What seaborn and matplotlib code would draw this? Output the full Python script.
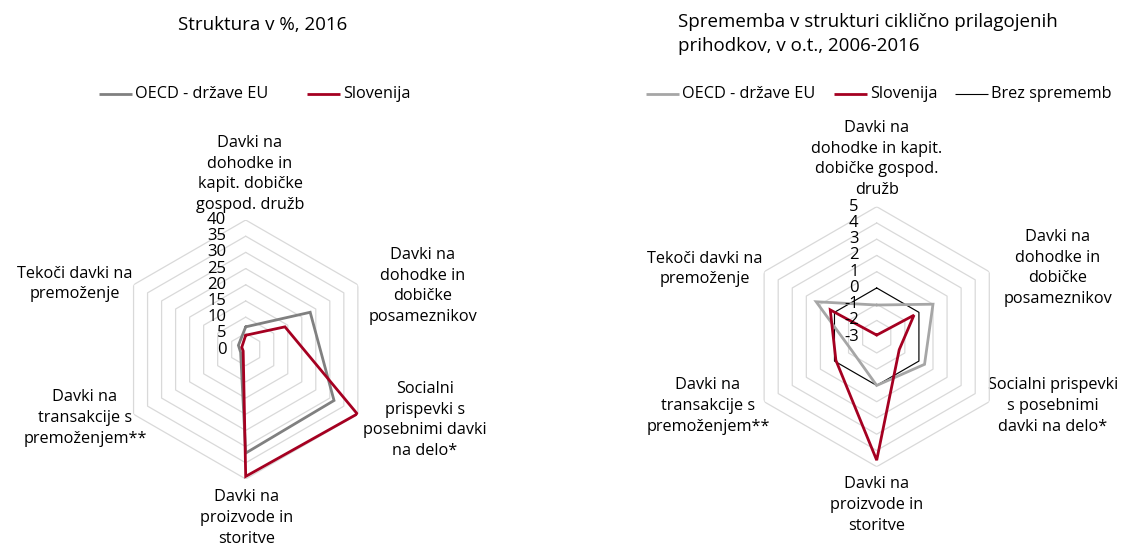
import numpy as np
import pandas as pd
import matplotlib
matplotlib.use("Agg")
import matplotlib.pyplot as plt
import seaborn as sns

# ---------------- data ----------------
labels_left = [
    "Davki na\ndohodke in\nkapit. dobičke\ngospod. družb",
    "Davki na\ndohodke in\ndobičke\nposameznikov",
    "Socialni\nprispevki s\nposebnimi davki\nna delo*",
    "Davki na\nproizvode in\nstoritve",
    "Davki na\ntransakcije s\npremoženjem**",
    "Tekoči davki na\npremoženje",
]
labels_right = [
    "Davki na\ndohodke in kapit.\ndobičke gospod.\ndružb",
    "Davki na\ndohodke in\ndobičke\nposameznikov",
    "Socialni prispevki\ns posebnimi\ndavki na delo*",
    "Davki na\nproizvode in\nstoritve",
    "Davki na\ntransakcije s\npremoženjem**",
    "Tekoči davki na\npremoženje",
]
oecd_share = [7.0, 23.0, 31.5, 32.0, 1.8, 2.6]
slo_share = [4.4, 14.0, 39.8, 39.2, 0.9, 1.4]
oecd_change = [-1.05, 1.0, 0.4, 0.0, -1.25, 1.3]
slo_change = [-2.9, -0.35, -1.4, 4.6, -0.1, 0.3]
no_change = [0, 0, 0, 0, 0, 0]
ticks_left = [0, 5, 10, 15, 20, 25, 30, 35, 40]
ticks_right = [-3, -2, -1, 0, 1, 2, 3, 4, 5]
title_left = "Struktura v %, 2016"
title_right = "Sprememba v strukturi ciklično prilagojenih\nprihodkov, v o.t., 2006-2016"
legend_left = ["OECD - države EU", "Slovenija"]
legend_right = ["OECD - države EU", "Slovenija", "Brez sprememb"]

# ---------------- style ----------------
sns.set_theme(style="white")
plt.rcParams["font.family"] = ["Open Sans", "DejaVu Sans"]
RED = "#A50021"
GRAY_L = "#808080"
GRAY_R = "#A6A6A6"
GRID = "#D9D9D9"
FS = 11.7
TXT = "#000000"

W, H = 1123, 545
fig = plt.figure(figsize=(W / 100, H / 100), dpi=100)

# overlay axes in pixel coordinates for free text / legends
ov = fig.add_axes([0, 0, 1, 1])
ov.set_xlim(0, W)
ov.set_ylim(H, 0)
ov.axis("off")


def polar_ax(cx, cy, r):
    ax = fig.add_axes([(cx - r) / W, 1 - (cy + r) / H, 2 * r / W, 2 * r / H],
                      projection="polar")
    ax.set_theta_zero_location("N")
    ax.set_theta_direction(-1)
    ax.grid(False)
    ax.spines["polar"].set_visible(False)
    ax.set_xticks([])
    ax.set_yticks([])
    ax.patch.set_alpha(0)
    return ax


def radar(ax, ticks, series, tick_dx):
    n = 6
    theta = np.arange(n) * 2 * np.pi / n
    closed = np.append(theta, 2 * np.pi)
    ax.set_ylim(ticks[0], ticks[-1])
    for t in ticks[1:]:
        ax.plot(closed, [t] * (n + 1), color=GRID, lw=0.9, zorder=0)
    for vals, color, lw in series:
        df = pd.DataFrame({"theta": closed, "r": list(vals) + [vals[0]]})
        sns.lineplot(data=df, x="theta", y="r", ax=ax, sort=False,
                     estimator=None, color=color, lw=lw,
                     solid_joinstyle="miter", zorder=3)
    ax.set_xlabel("")
    ax.set_ylabel("")
    ax.set_ylim(ticks[0], ticks[-1])
    for t in ticks:
        ax.annotate(str(t), xy=(0, t), xytext=(tick_dx, 0),
                    textcoords="offset points", ha="right", va="center",
                    fontsize=12, color=TXT)


# left chart
axL = polar_ax(245.7, 349.5, 129.5)
radar(axL, ticks_left, [(oecd_share, GRAY_L, 2.0), (slo_share, RED, 2.0)], -14)

# right chart
axR = polar_ax(876.7, 336.7, 130)
radar(axR, ticks_right, [(no_change, "#000000", 0.8),
                         (oecd_change, GRAY_R, 2.0),
                         (slo_change, RED, 2.0)], -13)

# category labels
pos_left = [(250, 174), (423, 286), (425, 420), (247, 518), (85, 418), (75, 284)]
pos_right = [(877, 159), (1058, 268), (1053, 406), (877, 505), (708, 406), (705, 269)]
for lab, (x, y) in zip(labels_left, pos_left):
    ov.text(x, y, lab, ha="center", va="center", fontsize=FS, color=TXT,
            linespacing=1.38, multialignment="center")
for lab, (x, y) in zip(labels_right, pos_right):
    ov.text(x, y, lab, ha="center", va="center", fontsize=FS, color=TXT,
            linespacing=1.38, multialignment="center")

# titles
ov.text(263, 25, title_left, ha="center", va="center", fontsize=13.5, color=TXT)
ov.text(678, 34, title_right, ha="left", va="center", fontsize=13.5, color=TXT,
        linespacing=1.4)

# legends
def leg(x0, y, color, lw, text):
    ov.plot([x0, x0 + 33], [y, y], color=color, lw=lw, solid_capstyle="butt")
    ov.text(x0 + 36, y, text, ha="left", va="center", fontsize=FS, color=TXT)

leg(99, 94, GRAY_L, 2.0, legend_left[0])
leg(307, 94, RED, 2.0, legend_left[1])
leg(646, 94, GRAY_R, 2.0, legend_right[0])
leg(834, 94, RED, 2.0, legend_right[1])
leg(955, 94, "#000000", 0.8, legend_right[2])

fig.savefig("out.png", dpi=100)
